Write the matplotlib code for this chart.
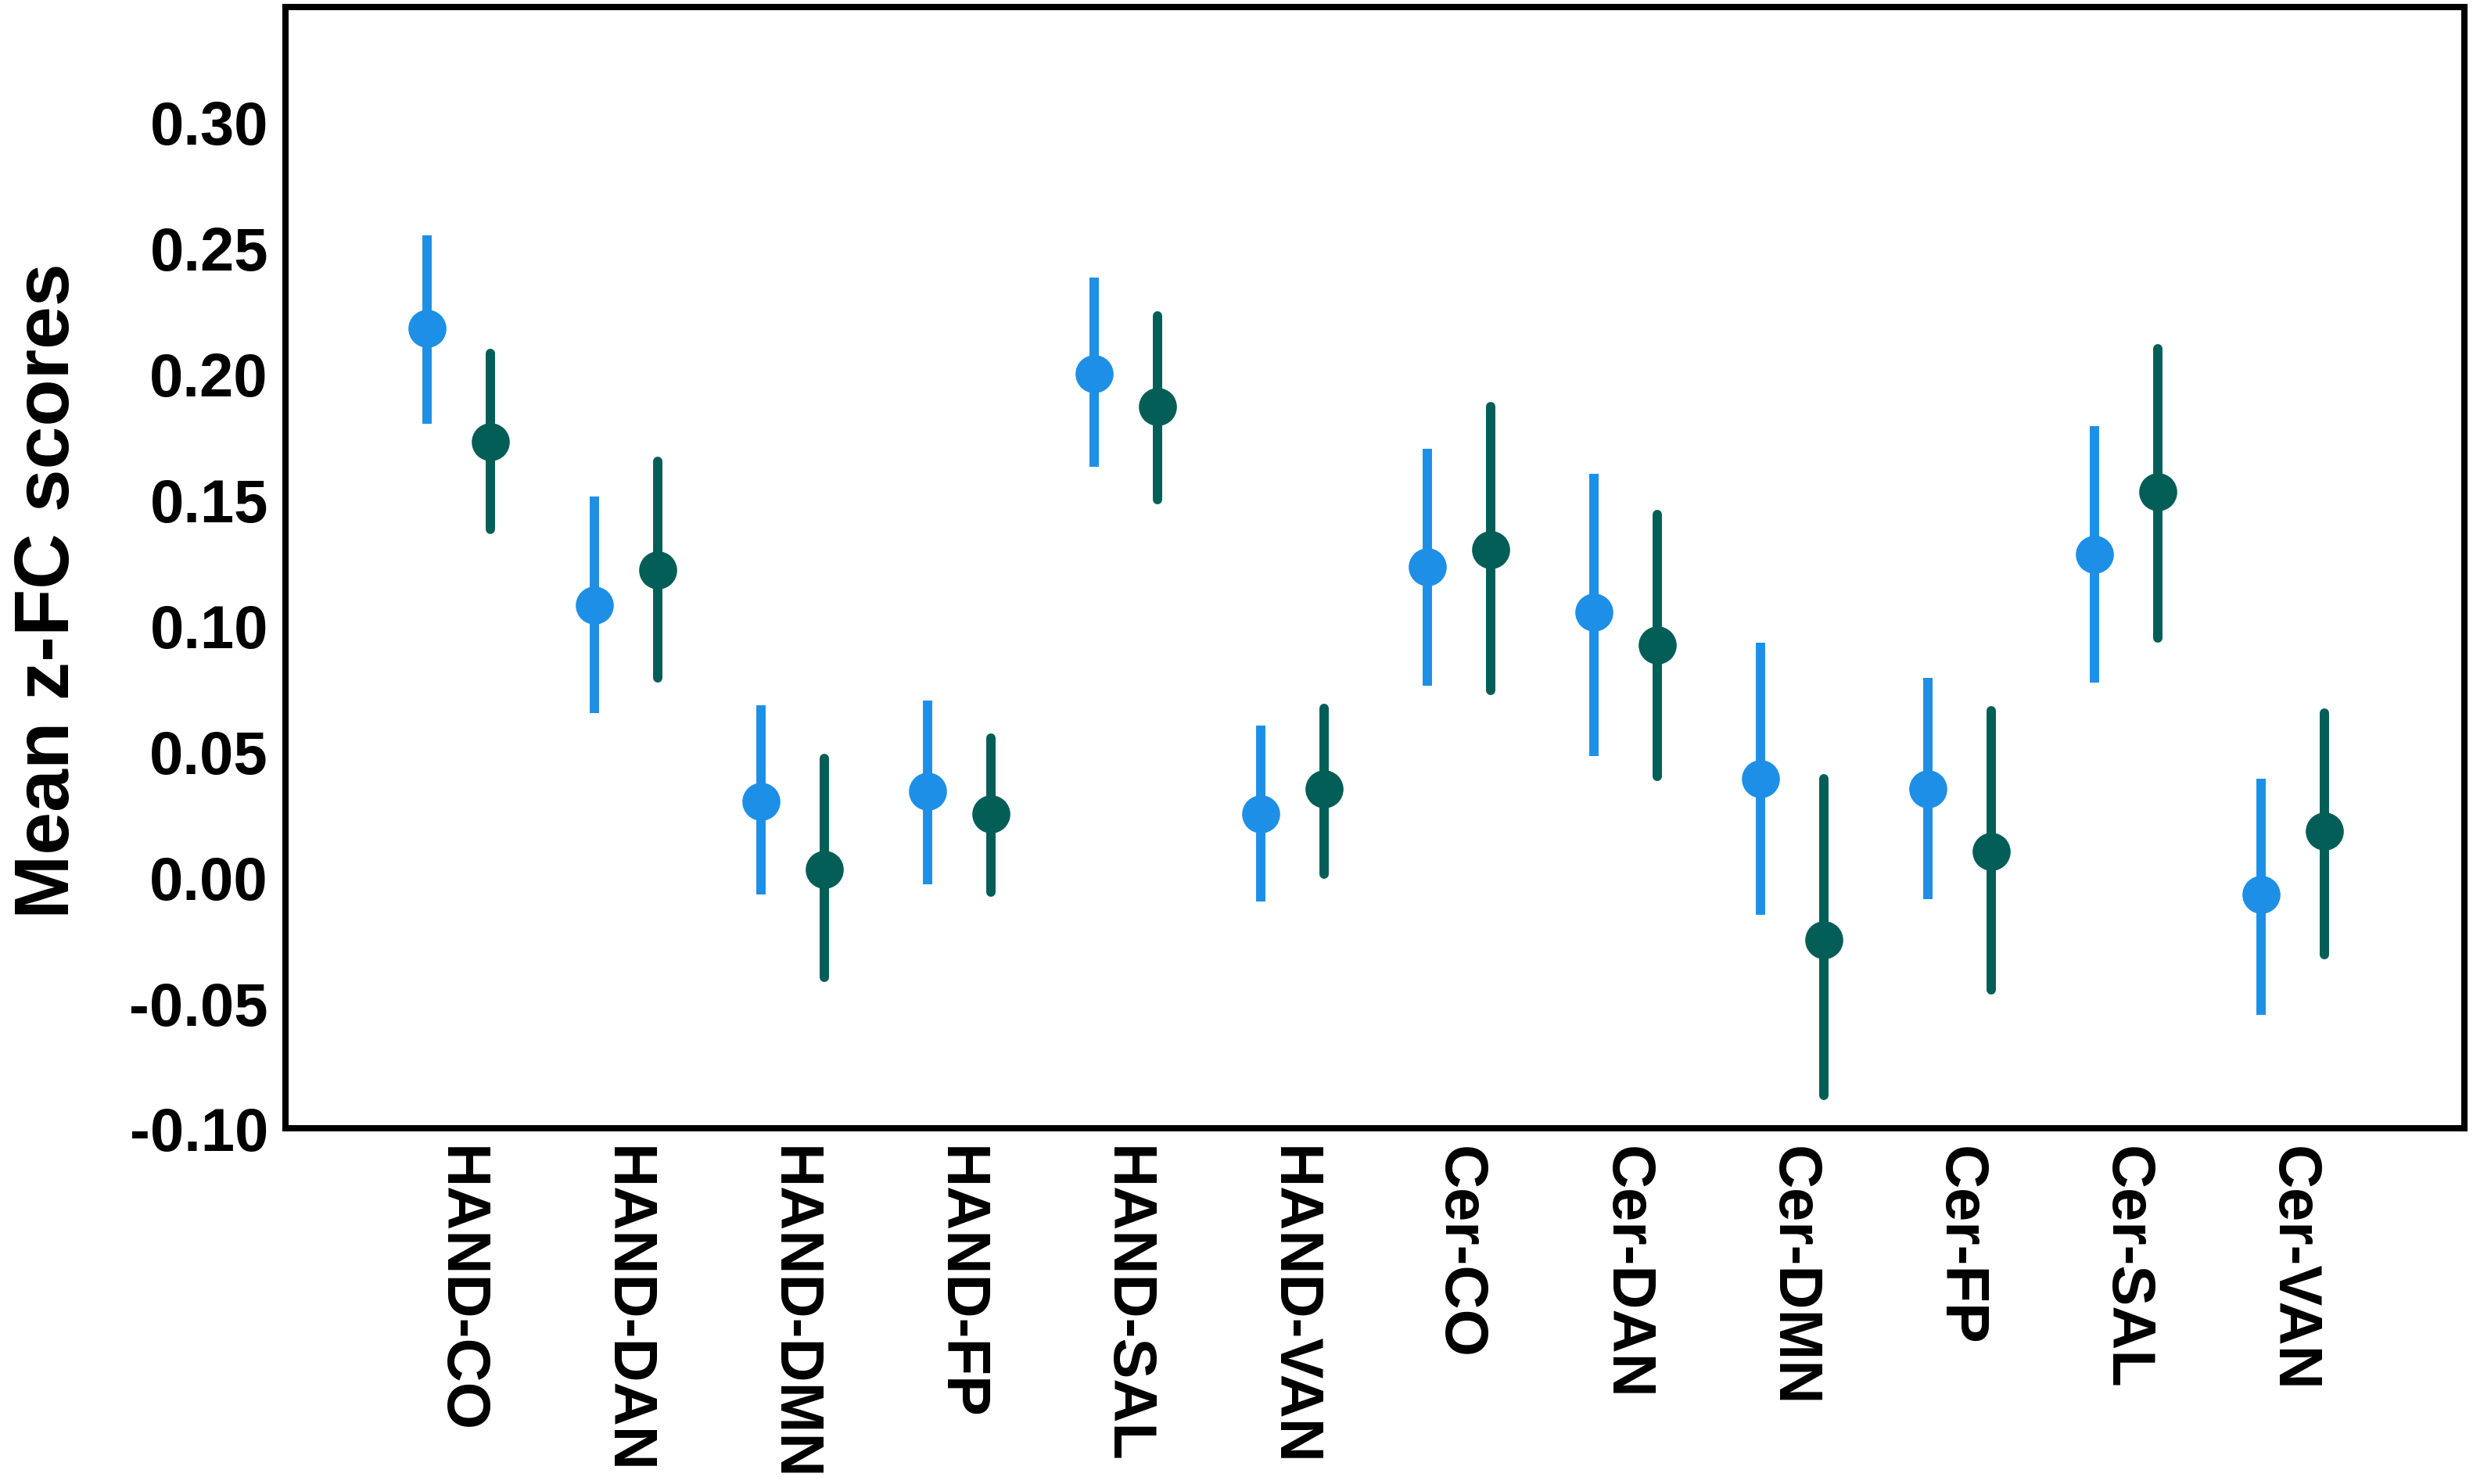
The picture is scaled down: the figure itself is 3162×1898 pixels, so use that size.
import matplotlib

matplotlib.use("Agg")
import matplotlib.pyplot as plt
import numpy as np

CATEGORIES = ["HAND-CO", "HAND-DAN", "HAND-DMN", "HAND-FP", "HAND-SAL", "HAND-VAN",
              "Cer-CO", "Cer-DAN", "Cer-DMN", "Cer-FP", "Cer-SAL", "Cer-VAN"]

# group 1 (light blue): mean, lower, upper
BLUE_MEAN = [0.218, 0.108, 0.030, 0.034, 0.200, 0.025,
             0.123, 0.105, 0.039, 0.035, 0.128, -0.007]
BLUE_LO = [0.180, 0.065, -0.007, -0.003, 0.163, -0.010,
           0.076, 0.048, -0.015, -0.009, 0.077, -0.055]
BLUE_HI = [0.255, 0.151, 0.068, 0.070, 0.238, 0.060,
           0.170, 0.160, 0.093, 0.079, 0.179, 0.039]

# group 2 (dark teal)
GREEN_MEAN = [0.173, 0.122, 0.003, 0.025, 0.187, 0.035,
              0.130, 0.092, -0.025, 0.010, 0.153, 0.018]
GREEN_LO = [0.138, 0.079, -0.040, -0.006, 0.150, 0.001,
            0.074, 0.040, -0.087, -0.045, 0.095, -0.031]
GREEN_HI = [0.208, 0.165, 0.047, 0.055, 0.223, 0.067,
            0.187, 0.144, 0.039, 0.066, 0.210, 0.065]

YTICKS = [-0.10, -0.05, 0.00, 0.05, 0.10, 0.15, 0.20, 0.25, 0.30]

BLUE = "#1e8fe6"
GREEN = "#035e57"
FONT = ["Liberation Sans", "DejaVu Sans"]


def draw(ax, xs, mean, lo, hi, color, capstyle):
    mean = np.asarray(mean)
    yerr = [mean - np.asarray(lo), np.asarray(hi) - mean]
    _, _, bars = ax.errorbar(xs, mean, yerr=yerr, fmt="o", color=color,
                             ms=16.5, elinewidth=4.3, capsize=0, zorder=3)
    for b in bars:
        b.set_capstyle(capstyle)


def main():
    plt.rcParams.update({"font.family": FONT, "font.weight": "bold"})
    fig = plt.figure(figsize=(15.81, 9.495), dpi=200)
    ax = fig.add_axes([0.1155, 0.2396, 0.881, 0.755])

    x = np.arange(len(CATEGORIES))
    draw(ax, x - 0.19, BLUE_MEAN, BLUE_LO, BLUE_HI, BLUE, "butt")
    draw(ax, x + 0.19, GREEN_MEAN, GREEN_LO, GREEN_HI, GREEN, "round")

    ax.set_xlim(-1.04, 12.03)
    ax.set_ylim(-0.1, 0.3456)
    ax.set_yticks(YTICKS)
    ax.set_yticklabels([f"{v:.2f}" for v in YTICKS], fontsize=28, fontweight="bold")
    ax.set_xticks(x)
    ax.set_xticklabels(CATEGORIES, rotation=-90, fontsize=28, fontweight="bold",
                       va="top", ha="center")
    ax.tick_params(length=0)
    ax.tick_params(axis="y", pad=8)
    ax.tick_params(axis="x", pad=8)
    for s in ax.spines.values():
        s.set_linewidth(2.9)
        s.set_color("black")

    ax.set_ylabel("Mean z-FC scores", fontsize=35.5, fontweight="bold")
    ax.yaxis.set_label_coords(-0.0925, 0.48)

    fig.savefig("out.png", dpi=200)


if __name__ == "__main__":
    main()
